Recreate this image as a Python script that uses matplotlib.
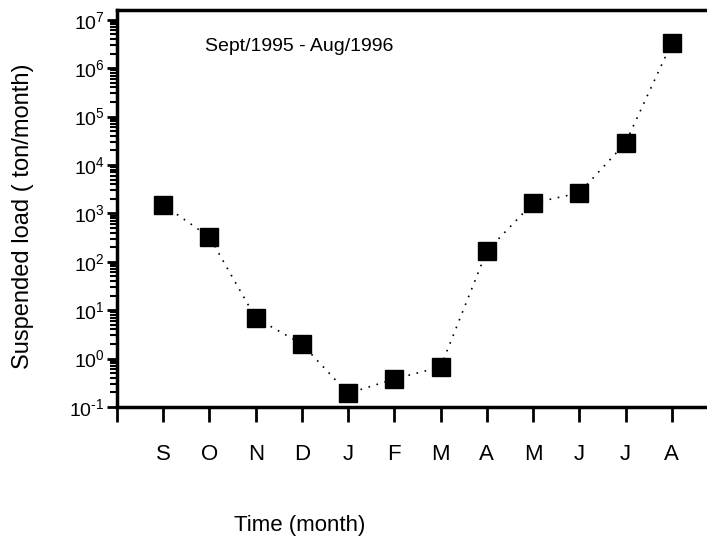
import numpy as np
import matplotlib
matplotlib.use('Agg')
import matplotlib.pyplot as plt
from matplotlib.ticker import LogLocator, FixedLocator, NullFormatter, FuncFormatter

plt.rcParams['font.family'] = ['Liberation Sans', 'DejaVu Sans']
plt.rcParams['mathtext.fontset'] = 'custom'
plt.rcParams['mathtext.rm'] = 'Liberation Sans'
plt.rcParams['mathtext.it'] = 'Liberation Sans:italic'
plt.rcParams['mathtext.bf'] = 'Liberation Sans:bold'

# Monthly suspended load, Sept 1995 - Aug 1996
months = ['S', 'O', 'N', 'D', 'J', 'F', 'M', 'A', 'M', 'J', 'J', 'A']
load = [1500, 325, 6.9, 2.0, 0.19, 0.38, 0.67, 167, 1640, 2640, 28500, 3.3e6]

x = np.arange(1, len(months) + 1)

fig = plt.figure(figsize=(7.07, 5.41), dpi=100)
ax = fig.add_axes([0.1655, 0.2477, 0.85, 0.7338])

ax.plot(x, load, linestyle=(0, (1, 4)), color='black', linewidth=1.2,
        marker='s', markersize=13.5, markerfacecolor='black', markeredgecolor='black')

ax.set_yscale('log')
ax.set_ylim(1e-1, 10 ** 7.2)
ax.set_xlim(0, 13)


def decade(v, pos):
    e = int(round(np.log10(v)))
    if e < 0:
        return r'$10^{\text{-}%d}$' % abs(e)
    return r'$10^{%d}$' % e


ax.yaxis.set_major_locator(LogLocator(base=10, numticks=20))
ax.yaxis.set_major_formatter(FuncFormatter(decade))
ax.yaxis.set_minor_locator(LogLocator(base=10, subs=np.arange(2, 10), numticks=20))
ax.yaxis.set_minor_formatter(NullFormatter())
ax.xaxis.set_major_locator(FixedLocator(np.arange(0, 14)))
ax.set_xticklabels([''] + months + [''])

for side in ['left', 'bottom', 'top']:
    ax.spines[side].set_linewidth(2.5)
ax.spines['right'].set_visible(False)

ax.tick_params(axis='y', which='major', direction='out', length=7, width=2,
               labelsize=14, pad=2)
ax.tick_params(axis='y', which='minor', direction='out', length=5, width=1.5)
ax.tick_params(axis='x', which='major', direction='out', length=11, width=2,
               labelsize=16, pad=16)

ax.text(0.147, 0.909, 'Sept/1995 - Aug/1996', transform=ax.transAxes,
        fontsize=14, ha='left', va='center')

ax.set_xlabel('Time (month)', fontsize=16)
ax.xaxis.set_label_coords((300 - 117) / 601, -0.273)
ax.set_ylabel('Suspended load ( ton/month)', fontsize=17)
ax.yaxis.set_label_coords(-0.138, 0.48)

fig.savefig('out.png', dpi=100)
